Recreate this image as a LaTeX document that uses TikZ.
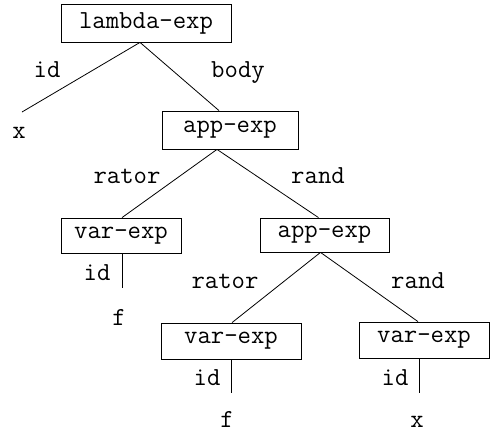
\documentclass[tikz,border=0pt]{standalone}
\usepackage{fontspec}
\begin{document}
\begin{tikzpicture}[x=1pt,y=-1pt,
  every node/.style={font=\ttfamily\fontsize{26}{26}\selectfont, inner sep=0pt},
  box/.style={draw, line width=0.8pt},
  edge/.style={line width=0.8pt},
  lab/.style={anchor=base}]
\useasboundingbox (0,0) rectangle (490,434);
% boxes
\node[box, minimum width=170pt, minimum height=38pt] (L) at (146,23) {lambda-exp};
\node[box, minimum width=136pt, minimum height=38pt] (A1) at (230,130) {app-exp};
\node[box, minimum width=120pt, minimum height=35pt] (V1) at (121,235.5) {var-exp};
\node[box, minimum width=129pt, minimum height=34pt] (A2) at (324.5,235) {app-exp};
\node[box, minimum width=140pt, minimum height=36pt] (V2) at (231,341) {var-exp};
\node[box, minimum width=130pt, minimum height=36pt] (V3) at (424,340) {var-exp};
% leaves
\node[lab] (x1) at (19,138) {x};
\node[lab] (f1) at (119,325) {f};
\node[lab] (f2) at (227,427) {f};
\node[lab] (x2) at (417,427) {x};
% free ends
\coordinate (xe) at (22,112);
\coordinate (e1) at (122,288);
\coordinate (e2) at (231,393);
\coordinate (e3) at (419,393);
% connectors
\draw[edge] ([xshift=-6pt]L.south) -- (xe);
\draw[edge] ([xshift=-6pt]L.south) -- ([xshift=-11pt]A1.north);
\draw[edge] ([xshift=-13pt]A1.south) -- ([xshift=1pt]V1.north);
\draw[edge] ([xshift=-13pt]A1.south) -- ([xshift=-6pt]A2.north);
\draw[edge] ([xshift=1pt]V1.south) -- (e1);
\draw[edge] ([xshift=-4pt]A2.south) -- ([xshift=1pt]V2.north);
\draw[edge] ([xshift=-4pt]A2.south) -- ([xshift=-6pt]V3.north);
\draw[edge] (V2.south) -- (e2);
\draw[edge] ([xshift=-5pt]V3.south) -- (e3);
% labels
\node[lab] (l1) at (47,77) {id};
\node[lab] (l2) at (238,77) {body};
\node[lab] (l3) at (127,183) {rator};
\node[lab] (l4) at (318,183) {rand};
\node[lab] (l5) at (97,280) {id};
\node[lab] (l6) at (225,288) {rator};
\node[lab] (l7) at (418,288) {rand};
\node[lab] (l8) at (207,385) {id};
\node[lab] (l9) at (395,385) {id};
\end{tikzpicture}
\end{document}
